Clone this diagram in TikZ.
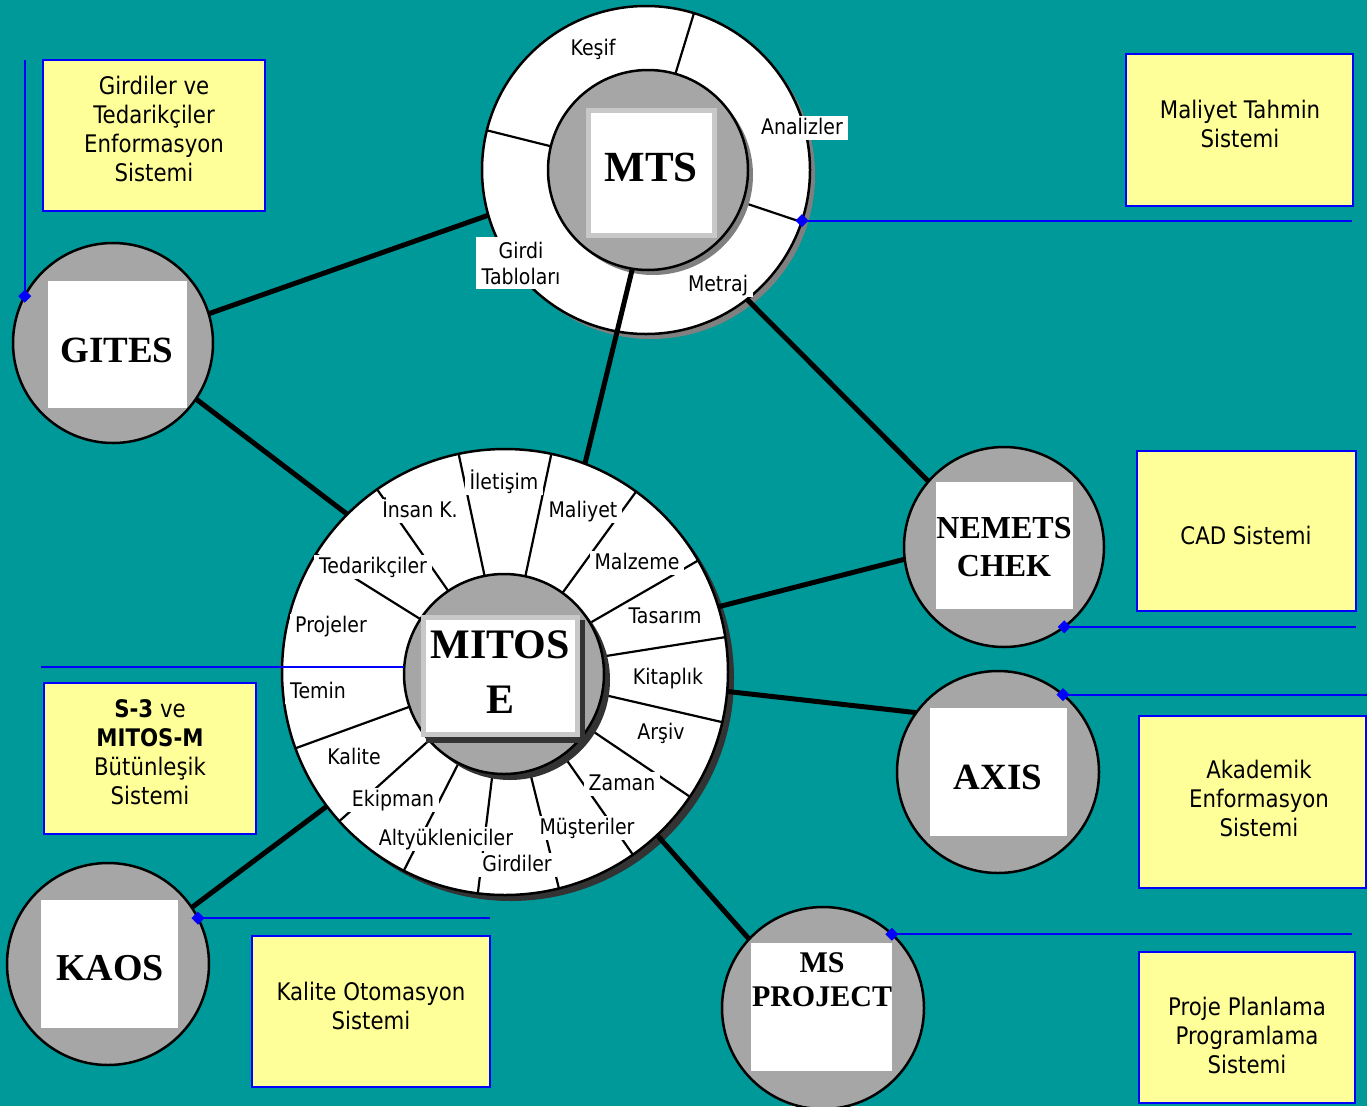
\documentclass[tikz,border=0pt]{standalone}
\usepackage{fontspec}
\setmainfont{DejaVu Sans}[FakeStretch=0.88]
\newfontfamily\bigserif{Liberation Serif}
\usetikzlibrary{shapes.geometric,calc}
\definecolor{teal0}{RGB}{0,153,153}
\definecolor{ringgray}{RGB}{166,166,166}
\definecolor{yel}{RGB}{255,255,153}
\definecolor{blu}{RGB}{0,0,255}
\definecolor{dsh}{RGB}{51,51,51}
\definecolor{msh}{RGB}{128,128,128}
\definecolor{framegray}{RGB}{200,200,200}
\begin{document}
\begin{tikzpicture}[x=1pt,y=-1pt,
  every node/.style={inner sep=0pt, outer sep=0pt},
  ringc/.style={circle, draw=black, line width=2.5pt, fill=white},
  graycirc/.style={circle, draw=black, line width=2.5pt, fill=ringgray},
  conn/.style={line width=5pt, draw=black},
  spoke/.style={line width=2.2pt, draw=black},
  lblbase/.style={fill=white, inner xsep=5pt, inner ysep=2pt,
              font=\fontsize{21.5}{26}\selectfont, align=center},
  lbl/.style={lblbase, text height=16pt, text depth=4pt},
  ybox/.style={rectangle, draw=blu, fill=yel, line width=2pt},
  ytext/.style={align=center, font=\fontsize{24.2}{29}\selectfont},
  bline/.style={draw=blu, line width=2pt},
  dia/.style={diamond, fill=blu, minimum size=13pt},
  wsq/.style={rectangle, fill=white},
  bigtxt/.style={align=center, font=\bigserif\bfseries\fontsize{#1}{#1}\selectfont}
]
\useasboundingbox (0,0) rectangle (1367,1106);
\fill[teal0] (0,0) rectangle (1367,1106);

% ring shadows
\fill[msh] (651,175) circle[radius=164];
\fill[dsh] (511,678) circle[radius=223];

% rings
\node[ringc, minimum size=328pt] (mtsring) at (646,170) {};
\node[ringc, minimum size=446pt] (mitos) at (505,672) {};

% spokes
\foreach \a in {-73,-166,18.5}
  \draw[spoke] ($(mtsring.center)+(\a:98)$) -- ($(mtsring.center)+(\a:164)$);
\foreach \a in {-102,-78,-54,-30,-9,13,34,55,76,97,117,138,160,-148,-125}
  \draw[spoke] ($(mitos.center)+(\a:98)$) -- ($(mitos.center)+(\a:223)$);

% inner circles
\fill[msh] (653,175) circle[radius=100];
\node[graycirc, minimum size=200pt] (mtsin) at (648,170) {};
\fill[dsh] (510,680) circle[radius=100];
\node[graycirc, minimum size=200pt] (mitosin) at (504,674) {};

% satellite circles
\node[graycirc, minimum size=200pt] (gites) at (113,343) {};
\node[graycirc, minimum size=200pt] (nemets) at (1004,547) {};
\node[graycirc, minimum size=202pt] (axis) at (998,772) {};
\node[graycirc, minimum size=202pt] (msproj) at (823,1008) {};
\node[graycirc, minimum size=202pt] (kaos) at (108,964) {};

% connectors
\draw[conn] (mitos.69) -- (mtsin.-99);
\draw[conn] (mtsring.-52) -- (nemets.139);
\draw[conn] (mtsring.-164) -- (gites.17);
\draw[conn] (gites.-34) -- (mitos.135);
\draw[conn] (mitos.17) -- (nemets.-173);
\draw[conn] (mitos.-5) -- (axis.144);
\draw[conn] (mitos.-47) -- (msproj.137);
\draw[conn] (mitos.-143) -- (kaos.34);

% MTS ring labels
\node[lbl] (kesif) at (593,49) {Keşif};
\node[lbl] (analiz) at (802,128) {Analizler};
\node[lblbase, inner ysep=5pt, inner xsep=6pt] (girdit) at (521,263) {Girdi\\Tabloları};
\node[lbl] (metraj) at (718,285) {Metraj};

% MITOSE ring labels
\node[lbl] (l1) at (504,483) {İletişim};
\node[lbl] (l2) at (420,511) {İnsan K.};
\node[lbl] (l3) at (583,511) {Maliyet};
\node[lbl] (l4) at (373,567) {Tedarikçiler};
\node[lbl] (l5) at (637,563) {Malzeme};
\node[lbl] (l6) at (665,617) {Tasarım};
\node[lbl] (l7) at (331,626) {Projeler};
\node[lbl] (l8) at (668,678) {Kitaplık};
\node[lbl] (l9) at (318,692) {Temin};
\node[lbl] (l10) at (661,733) {Arşiv};
\node[lbl] (l11) at (354,758) {Kalite};
\node[lbl] (l12) at (622,784) {Zaman};
\node[lbl] (l13) at (393,800) {Ekipman};
\node[lbl] (l14) at (587,828) {Müşteriler};
\node[lbl] (l15) at (446,839) {Altyükleniciler};
\node[lbl] (l16) at (517,865) {Girdiler};

% central squares
\fill[framegray] (586,108) rectangle (717,238);
\node[wsq, minimum width=121pt, minimum height=120pt] (mtssq) at (651.5,173) {};
\node[bigtxt=43] (mtstxt) at (651,167) {MTS};

\fill[dsh] (426,620) rectangle (585,743);
\fill[framegray] (421,615) rectangle (580,737);
\node[wsq, minimum width=149pt, minimum height=112pt] (mitossq) at (500.5,676) {};
\node[bigtxt=42] (mitostxt) at (500,645) {MITOS};
\node[bigtxt=42] (mitostxtb) at (500,700) {E};

\node[wsq, minimum width=139pt, minimum height=127pt] (gitessq) at (117.5,344.5) {};
\node[bigtxt=37] (gitestxt) at (117,350) {GITES};

\node[wsq, minimum width=137pt, minimum height=127pt] (nemetssq) at (1004.5,545.5) {};
\node[bigtxt=32, font=\bigserif\bfseries\fontsize{32}{38}\selectfont] (nemetstxt) at (1004,547) {NEMETS\\CHEK};

\node[wsq, minimum width=137pt, minimum height=128pt] (axissq) at (998.5,772) {};
\node[bigtxt=37] (axistxt) at (998,777) {AXIS};

\node[wsq, minimum width=141pt, minimum height=128pt] (mssq) at (821.5,1007) {};
\node[bigtxt=30, font=\bigserif\bfseries\fontsize{30}{34}\selectfont] (mstxt) at (822,980) {MS\\PROJECT};

\node[wsq, minimum width=137pt, minimum height=128pt] (kaossq) at (109.5,964) {};
\node[bigtxt=38] (kaostxt) at (110,968) {KAOS};

% blue lines with diamonds
\coordinate (gitesEnd) at (25,60);
\coordinate (mtsEnd) at (1352,222);
\coordinate (nemetsEnd) at (1356,625);
\coordinate (axisEnd) at (1367,698);
\coordinate (kaosEnd) at (490,919);
\coordinate (msEnd) at (1352,936);
\coordinate (mitosEnd) at (41,667);
\draw[bline] (gites.152) -- (gites.152 |- gitesEnd);
\draw[bline] (mtsring.-18) -- (mtsring.-18 -| mtsEnd);
\draw[bline] (nemets.-53) -- (nemets.-53 -| nemetsEnd);
\draw[bline] (axis.50) -- (axis.50 -| axisEnd);
\draw[bline] (kaos.27) -- (kaos.27 -| kaosEnd);
\draw[bline] (msproj.47) -- (msproj.47 -| msEnd);
\draw[draw=blu, line width=1.5pt] (mitosin.176) -- (mitosin.176 -| mitosEnd);
\node[dia] (gd) at (gites.152) {};
\node[dia] (md) at (mtsring.-18) {};
\node[dia] (nd) at (nemets.-53) {};
\node[dia] (ad) at (axis.50) {};
\node[dia] (kd) at (kaos.27) {};
\node[dia] (pd) at (msproj.47) {};

% yellow boxes
\node[ybox, minimum width=222pt, minimum height=151pt] (b1) at (154,135.5) {};
\node[ytext] (t1) at (154,129) {Girdiler ve\\Tedarikçiler\\Enformasyon\\Sistemi};
\node[ybox, minimum width=227pt, minimum height=152pt] (b2) at (1239.5,130) {};
\node[ytext] (t2) at (1240,123.5) {Maliyet Tahmin\\Sistemi};
\node[ybox, minimum width=219pt, minimum height=160pt] (b3) at (1246.5,531) {};
\node[ytext] (t3) at (1246,535) {CAD Sistemi};
\node[ybox, minimum width=227pt, minimum height=172pt] (b4) at (1252.5,802) {};
\node[ytext] (t4) at (1259,798) {Akademik\\Enformasyon\\Sistemi};
\node[ybox, minimum width=216pt, minimum height=151pt] (b5) at (1247,1027.5) {};
\node[ytext] (t5) at (1247,1035.5) {Proje Planlama\\Programlama\\Sistemi};
\node[ybox, minimum width=238pt, minimum height=151pt] (b6) at (371,1011.5) {};
\node[ytext] (t6) at (371,1005.5) {Kalite Otomasyon\\Sistemi};
\node[ybox, minimum width=212pt, minimum height=151pt] (b7) at (150,758.5) {};
\node[ytext] (t7) at (150,752.5) {\textbf{S-3} ve\\\textbf{MITOS-M}\\Bütünleşik\\Sistemi};
\end{tikzpicture}
\end{document}
